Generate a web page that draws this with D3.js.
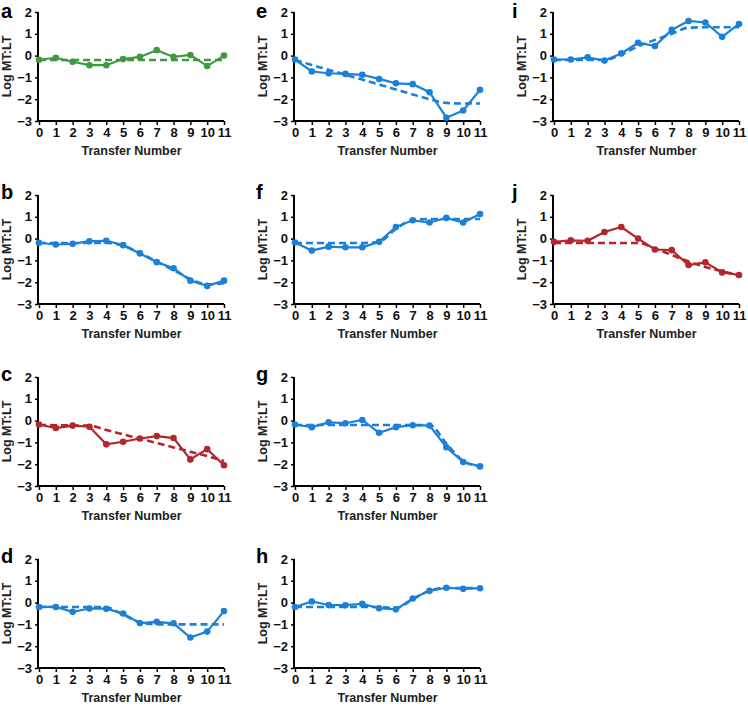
<!DOCTYPE html>
<html>
<head>
<meta charset="utf-8">
<script src="https://cdn.jsdelivr.net/npm/d3@7"></script>
<style>
  body { margin: 0; background: #fff; }
  svg { display: block; font-family: "Liberation Sans", Arial, Helvetica, sans-serif; }
</style>
</head>
<body>
<svg id="chart" width="748" height="707"></svg>
<script>
// ---------- data ----------
const transfers = [0, 1, 2, 3, 4, 5, 6, 7, 8, 9, 10, 11];
const yTicks = [2, 1, 0, -1, -2, -3];
const xTickLabels = ["0", "1", "2", "3", "4", "5", "6", "7", "8", "9", "10", "11"];
const panelLetters = ["a", "b", "c", "d", "e", "f", "g", "h", "i", "j"];
const panelColors = ["green", "blue", "red", "blue", "blue", "blue", "blue", "blue", "blue", "red"];

const valuesA = [-0.19, -0.1, -0.28, -0.44, -0.44, -0.16, -0.06, 0.25, -0.06, 0.03, -0.48, 0.0];
const fitA    = [-0.2, -0.2, -0.2, -0.2, -0.2, -0.2, -0.2, -0.2, -0.2, -0.2, -0.2, -0.2];
const valuesB = [-0.19, -0.27, -0.24, -0.12, -0.1, -0.3, -0.68, -1.08, -1.36, -1.93, -2.17, -1.93];
const fitB    = [-0.2, -0.2, -0.2, -0.2, -0.2, -0.32, -0.66, -1.05, -1.45, -1.85, -2.1, -2.05];
const valuesC = [-0.18, -0.34, -0.23, -0.28, -1.09, -0.97, -0.82, -0.71, -0.8, -1.78, -1.31, -2.05];
const fitC    = [-0.2, -0.21, -0.22, -0.23, -0.43, -0.63, -0.83, -1.03, -1.23, -1.43, -1.63, -1.85];
const valuesD = [-0.2, -0.2, -0.42, -0.27, -0.28, -0.5, -0.94, -0.88, -0.95, -1.6, -1.33, -0.39];
const fitD    = [-0.2, -0.2, -0.2, -0.2, -0.22, -0.55, -0.9, -1.0, -1.0, -1.0, -1.0, -1.0];
const valuesE = [-0.18, -0.73, -0.81, -0.84, -0.88, -1.07, -1.27, -1.31, -1.68, -2.85, -2.52, -1.57];
const fitE    = [-0.2, -0.43, -0.65, -0.88, -1.1, -1.33, -1.55, -1.78, -2.0, -2.17, -2.2, -2.2];
const valuesF = [-0.18, -0.55, -0.37, -0.4, -0.4, -0.15, 0.53, 0.84, 0.74, 0.95, 0.74, 1.13];
const fitF    = [-0.2, -0.2, -0.2, -0.2, -0.2, -0.15, 0.45, 0.85, 0.9, 0.9, 0.9, 0.9];
const valuesG = [-0.18, -0.3, -0.08, -0.12, 0.03, -0.56, -0.3, -0.21, -0.23, -1.22, -1.9, -2.1];
const fitG    = [-0.2, -0.2, -0.2, -0.2, -0.2, -0.2, -0.2, -0.2, -0.2, -1.05, -1.85, -2.1];
const valuesH = [-0.2, 0.05, -0.11, -0.12, -0.06, -0.26, -0.31, 0.19, 0.54, 0.68, 0.63, 0.66];
const fitH    = [-0.2, -0.2, -0.2, -0.2, -0.2, -0.2, -0.25, 0.15, 0.55, 0.67, 0.67, 0.67];
const valuesI = [-0.18, -0.18, -0.08, -0.23, 0.1, 0.59, 0.44, 1.18, 1.59, 1.52, 0.86, 1.45];
const fitI    = [-0.2, -0.2, -0.2, -0.2, 0.05, 0.42, 0.72, 1.0, 1.28, 1.3, 1.3, 1.3];
const valuesJ = [-0.15, -0.08, -0.1, 0.3, 0.53, 0.0, -0.5, -0.53, -1.21, -1.09, -1.55, -1.67];
const fitJ    = [-0.2, -0.2, -0.2, -0.2, -0.2, -0.2, -0.45, -0.75, -1.05, -1.3, -1.5, -1.68];

const seriesValues = [valuesA, valuesB, valuesC, valuesD, valuesE, valuesF, valuesG, valuesH, valuesI, valuesJ];
const seriesFits = [fitA, fitB, fitC, fitD, fitE, fitF, fitG, fitH, fitI, fitJ];

// ---------- layout ----------
const colorMap = { green: "#3f9a3f", blue: "#1b80d8", red: "#b3262b" };
const colX = [39, 295, 554];
const rowY = [12, 195, 377, 559];
const panelPos = [[0,0],[0,1],[0,2],[0,3],[1,0],[1,1],[1,2],[1,3],[2,0],[2,1]];
const plotW = 185, plotH = 109;

const svg = d3.select("#chart");
const x = d3.scaleLinear().domain([0, 11]).range([0, plotW]);
const y = d3.scaleLinear().domain([-3, 2]).range([plotH, 0]);

panelLetters.forEach((letter, i) => {
  const [c, r] = panelPos[i];
  const color = colorMap[panelColors[i]];
  const g = svg.append("g").attr("transform", `translate(${colX[c]},${rowY[r]})`);

  // axes
  const ya = g.append("g").attr("transform", "translate(-1,0)")
    .call(d3.axisLeft(y).tickValues(yTicks).tickFormat(d3.format("d")).tickSize(3).tickSizeOuter(0).tickPadding(3));
  const xa = g.append("g").attr("transform", `translate(0,${plotH})`)
    .call(d3.axisBottom(x).tickValues(transfers).tickFormat((d, k) => xTickLabels[k]).tickSize(4).tickSizeOuter(0).tickPadding(3));
  [ya, xa].forEach(a => {
    a.select(".domain").attr("stroke", "#000").attr("stroke-width", 2);
    a.selectAll(".tick line").attr("stroke", "#000").attr("stroke-width", 1.5);
    a.selectAll(".tick text").attr("fill", "#111").attr("font-size", 13).attr("font-weight", "bold")
      .attr("font-family", "'Liberation Sans', Arial, sans-serif");
  });
  xa.select(".domain").attr("d", `M-1,0H${plotW}`);
  ya.select(".domain").attr("d", `M0,0V${plotH + 1}`);

  // labels
  g.append("text").attr("x", plotW / 2).attr("y", plotH + 34)
    .attr("text-anchor", "middle").attr("font-size", 12.5).attr("font-weight", "bold").attr("fill", "#222")
    .text("Transfer Number");
  g.append("text").attr("transform", `translate(${-28},${y(-0.5)}) rotate(-90)`)
    .attr("text-anchor", "middle").attr("font-size", 12.5).attr("font-weight", "bold").attr("fill", "#222")
    .text("Log MT:LT");
  g.append("text").attr("x", c === 0 ? -38 : (c === 1 ? -39 : -42)).attr("y", r === 0 ? 6 : 4)
    .attr("font-size", 20).attr("font-weight", "bold").attr("fill", "#000")
    .text(letter);

  const pts = transfers.map((t, k) => ({ t, v: seriesValues[i][k], f: seriesFits[i][k] }));

  // fit (dashed)
  g.append("path").datum(pts)
    .attr("fill", "none").attr("stroke", color).attr("stroke-width", 2.6)
    .attr("stroke-dasharray", "7,4")
    .attr("d", d3.line().x(d => x(d.t)).y(d => y(d.f)).curve(d3.curveMonotoneX));

  // data line
  g.append("path").datum(pts)
    .attr("fill", "none").attr("stroke", color).attr("stroke-width", 2.2)
    .attr("d", d3.line().x(d => x(d.t)).y(d => y(d.v)));

  g.selectAll("circle.pt").data(pts).enter().append("circle")
    .attr("class", "pt").attr("cx", d => x(d.t)).attr("cy", d => y(d.v)).attr("r", 3.3)
    .attr("fill", color);
});
</script>
</body>
</html>
